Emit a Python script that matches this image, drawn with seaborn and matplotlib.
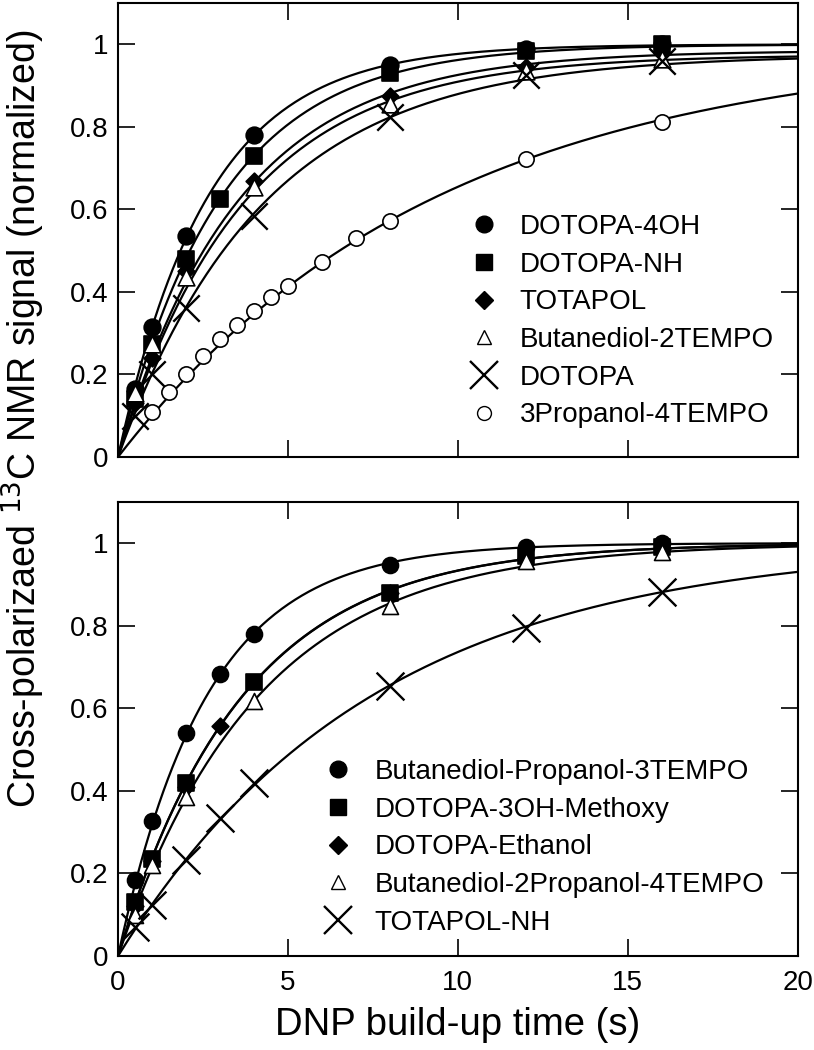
import numpy as np
import pandas as pd
import matplotlib
matplotlib.use('Agg')
import matplotlib.pyplot as plt
from matplotlib.lines import Line2D
import seaborn as sns

sns.set_style('ticks')
plt.rcParams['font.family'] = ['Liberation Sans', 'DejaVu Sans']
plt.rcParams['text.color'] = 'black'
plt.rcParams['axes.labelcolor'] = 'black'
plt.rcParams['xtick.color'] = 'black'
plt.rcParams['ytick.color'] = 'black'
plt.rcParams['axes.edgecolor'] = 'black'

# ---- top panel data ----
top_names = ['DOTOPA-4OH', 'DOTOPA-NH', 'TOTAPOL', 'Butanediol-2TEMPO', 'DOTOPA', '3Propanol-4TEMPO']
top_t = [
    [0.5, 1, 2, 4, 8, 12, 16],
    [0.5, 1, 2, 3, 4, 8, 12, 16],
    [0.5, 1, 2, 4, 8, 12, 16],
    [0.5, 1, 2, 4, 8, 12, 16],
    [0.5, 1, 2, 4, 8, 12, 16],
    [1, 1.5, 2, 2.5, 3, 3.5, 4, 4.5, 5, 6, 7, 8, 12, 16],
]
top_sig = [
    [0.165, 0.315, 0.535, 0.78, 0.95, 0.99, 1.0],
    [0.14, 0.275, 0.48, 0.625, 0.73, 0.93, 0.985, 1.0],
    [0.13, 0.24, 0.45, 0.67, 0.875, 0.945, 0.98],
    [0.155, 0.275, 0.435, 0.655, 0.855, 0.935, 0.965],
    [0.10, 0.20, 0.36, 0.585, 0.825, 0.925, 0.96],
    [0.11, 0.157, 0.20, 0.244, 0.285, 0.319, 0.355, 0.387, 0.415, 0.472, 0.531, 0.572, 0.722, 0.812],
]
# fitted build-up curves: amplitude and build-up time (s)
top_amp = [1.0, 1.0, 0.985, 0.975, 0.975, 1.0]
top_tb = [2.65, 3.05, 3.55, 3.7, 4.3, 9.4]

# ---- bottom panel data ----
bot_names = ['Butanediol-Propanol-3TEMPO', 'DOTOPA-3OH-Methoxy', 'DOTOPA-Ethanol',
             'Butanediol-2Propanol-4TEMPO', 'TOTAPOL-NH']
bot_t = [
    [0.5, 1, 2, 3, 4, 8, 12, 16],
    [0.5, 1, 2, 4, 8, 12, 16],
    [0.5, 1, 2, 3, 8, 12, 16],
    [0.5, 1, 2, 4, 8, 12, 16],
    [0.5, 1, 2, 3, 4, 8, 12, 16],
]
bot_sig = [
    [0.183, 0.326, 0.54, 0.684, 0.78, 0.947, 0.99, 1.0],
    [0.13, 0.235, 0.42, 0.663, 0.88, 0.97, 0.99],
    [0.12, 0.23, 0.41, 0.556, 0.88, 0.965, 0.985],
    [0.10, 0.22, 0.385, 0.617, 0.847, 0.957, 0.978],
    [0.07, 0.124, 0.233, 0.335, 0.42, 0.653, 0.794, 0.881],
]
bot_amp = [1.0, 1.0, 1.0, 1.0, 1.0]
bot_tb = [2.62, 3.68, 3.69, 4.15, 7.5]

top_markers = ['o', 's', 'D', '^', 'x', 'o']
top_fill = ['black', 'black', 'black', 'white', 'black', 'white']
top_size = [12, 11.5, 8.5, 12, 19, 11]
top_leg_size = [12, 11, 9, 10, 20, 10]
bot_markers = ['o', 's', 'D', '^', 'x']
bot_fill = ['black', 'black', 'black', 'white', 'black']
bot_size = [11.5, 11.5, 8.5, 11.5, 20]
bot_leg_size = [12, 11, 9, 10, 20]

t_grid = np.linspace(0, 20, 300)

fig = plt.figure(figsize=(8.14, 10.5), dpi=100)
ax_top = fig.add_axes([0.145, 0.5648, 0.835, 0.4322])
ax_bot = fig.add_axes([0.145, 0.0895, 0.835, 0.4325])


def draw_panel(ax, names, ts, sigs, amps, tbs, markers, fills, sizes, leg_sizes):
    for name, t, s, a, tb, m, fc, ms in zip(names, ts, sigs, amps, tbs, markers, fills, sizes):
        fit = pd.DataFrame({'t': t_grid, 'y': a * (1 - np.exp(-t_grid / tb))})
        sns.lineplot(x='t', y='y', data=fit, color='black', linewidth=1.6, ax=ax)
        pts = pd.DataFrame({'t': t, 'y': s})
        if m == 'x':
            sns.scatterplot(x='t', y='y', data=pts, marker='x', s=ms ** 2, color='black',
                            linewidth=1.7, ax=ax, zorder=3, clip_on=False)
        else:
            sns.scatterplot(x='t', y='y', data=pts, marker=m, s=ms ** 2, facecolor=fc,
                            edgecolor='black', linewidth=1.2, ax=ax, zorder=3, clip_on=False)
    ax.set_xlim(0, 20)
    ax.set_ylim(0, 1.1)
    ax.set_xticks([0, 5, 10, 15, 20])
    ax.set_yticks([0, 0.2, 0.4, 0.6, 0.8, 1.0])
    ax.set_yticklabels(['0', '0.2', '0.4', '0.6', '0.8', '1'])
    ax.tick_params(direction='in', length=12, width=1.2, top=True, right=True,
                   labelsize=20, pad=7)
    ax.tick_params(axis='x', pad=10)
    for sp in ax.spines.values():
        sp.set_linewidth(1.5)
    ax.set_xlabel('')
    ax.set_ylabel('')
    handles = []
    for name, m, fc, ms in zip(names, markers, fills, leg_sizes):
        if m == 'x':
            h = Line2D([], [], linestyle='none', marker='x', markersize=ms,
                       color='black', markeredgewidth=1.7, label=name)
        else:
            h = Line2D([], [], linestyle='none', marker=m, markersize=ms,
                       markerfacecolor=fc, markeredgecolor='black', markeredgewidth=1.0, label=name)
        handles.append(h)
    return handles


h_top = draw_panel(ax_top, top_names, top_t, top_sig, top_amp, top_tb,
                   top_markers, top_fill, top_size, top_leg_size)
ax_top.set_xticklabels([])
ax_top.legend(handles=h_top, loc='upper left', bbox_to_anchor=(0.497, 0.56), frameon=False,
              fontsize=20, labelspacing=0.42, handletextpad=0.7, handlelength=1.2,
              borderaxespad=0)

h_bot = draw_panel(ax_bot, bot_names, bot_t, bot_sig, bot_amp, bot_tb,
                   bot_markers, bot_fill, bot_size, bot_leg_size)
ax_bot.legend(handles=h_bot, loc='upper left', bbox_to_anchor=(0.283, 0.458), frameon=False,
              fontsize=20, labelspacing=0.42, handletextpad=0.7, handlelength=1.2,
              borderaxespad=0)
ax_bot.set_xlabel('DNP build-up time (s)', fontsize=27.5, labelpad=8)

fig.text(0.029, 0.601, 'Cross-polarizaed $^{13}$C NMR signal (normalized)', rotation=90,
         fontsize=27, ha='center', va='center')

fig.savefig('out.png', dpi=100)
